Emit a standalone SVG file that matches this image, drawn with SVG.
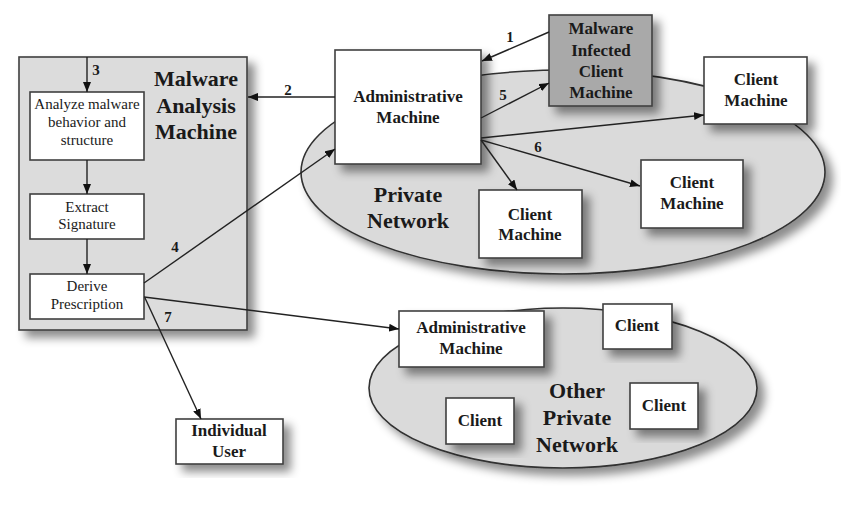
<svg xmlns="http://www.w3.org/2000/svg" width="841" height="505" viewBox="0 0 841 505">
<style>
.box{fill:#ffffff;stroke:#404040;stroke-width:1.6}
.grp{fill:#dcdcdc;stroke:#404040;stroke-width:1.6}
.dark{fill:#a9a9a9;stroke:#404040;stroke-width:1.6}
.net{fill:#dadada;stroke:#303030;stroke-width:1.6}
text{font-family:'Liberation Serif','Times New Roman','DejaVu Serif',serif;fill:#1a1a1a;text-anchor:middle}
.b{font-weight:bold;font-size:17px}
.big{font-weight:bold;font-size:22px}
.r{font-size:15px}
.num{font-weight:bold;font-size:15px}
.c{fill:none;stroke:#222;stroke-width:1.4;marker-end:url(#ah)}
</style>
<defs>
<marker id="ah" viewBox="0 0 10 8" refX="10" refY="4" markerWidth="10" markerHeight="8" markerUnits="userSpaceOnUse" orient="auto">
<path d="M0,0 L10,4 L0,8 Z" fill="#111"/>
</marker>
<filter id="sh" x="-20%" y="-20%" width="150%" height="150%">
<feDropShadow dx="7" dy="7" stdDeviation="5" flood-color="#000" flood-opacity="0.45"/>
</filter>
</defs>
<rect width="841" height="505" fill="#fff"/>

<g id="private-network">
<ellipse class="net" cx="563" cy="172" rx="262" ry="102" filter="url(#sh)"/>
<text class="big" x="408" y="202">Private</text>
<text class="big" x="408" y="228">Network</text>
</g>
<g id="other-private-network">
<ellipse class="net" cx="563" cy="388" rx="194" ry="80" filter="url(#sh)"/>
<text class="big" x="577" y="398">Other</text>
<text class="big" x="577" y="425">Private</text>
<text class="big" x="577" y="452">Network</text>
</g>

<g id="malware-analysis-machine">
<rect class="grp" x="19" y="57" width="228" height="273" filter="url(#sh)"/>
<text class="big" x="196" y="86">Malware</text>
<text class="big" x="196" y="113">Analysis</text>
<text class="big" x="196" y="139">Machine</text>
</g>
<g id="analyze">
<rect class="box" x="30" y="92" width="114" height="68"/>
<text class="r" x="87" y="109">Analyze malware</text>
<text class="r" x="87" y="127">behavior and</text>
<text class="r" x="87" y="145">structure</text>
</g>
<g id="extract">
<rect class="box" x="30" y="194" width="114" height="45"/>
<text class="r" x="87" y="212">Extract</text>
<text class="r" x="87" y="229">Signature</text>
</g>
<g id="derive">
<rect class="box" x="30" y="274" width="114" height="45"/>
<text class="r" x="87" y="291">Derive</text>
<text class="r" x="87" y="309">Prescription</text>
</g>

<g id="admin-machine">
<rect class="box" x="335" y="50" width="146" height="114" filter="url(#sh)"/>
<text class="b" x="408" y="102">Administrative</text>
<text class="b" x="408" y="123">Machine</text>
</g>
<g id="infected-client">
<rect class="dark" x="549" y="15" width="103" height="91" filter="url(#sh)"/>
<text class="b" x="601" y="34">Malware</text>
<text class="b" x="601" y="56">Infected</text>
<text class="b" x="601" y="77">Client</text>
<text class="b" x="601" y="98">Machine</text>
</g>
<g id="client-top-right">
<rect class="box" x="704" y="57" width="103" height="67" filter="url(#sh)"/>
<text class="b" x="756" y="85">Client</text>
<text class="b" x="756" y="106">Machine</text>
</g>
<g id="client-mid-right">
<rect class="box" x="641" y="160" width="102" height="68" filter="url(#sh)"/>
<text class="b" x="692" y="188">Client</text>
<text class="b" x="692" y="209">Machine</text>
</g>
<g id="client-bottom">
<rect class="box" x="479" y="190" width="103" height="68" filter="url(#sh)"/>
<text class="b" x="530" y="220">Client</text>
<text class="b" x="530" y="240">Machine</text>
</g>

<g id="other-admin">
<rect class="box" x="399" y="311" width="145" height="56" filter="url(#sh)"/>
<text class="b" x="471" y="333">Administrative</text>
<text class="b" x="471" y="354">Machine</text>
</g>
<g id="other-client-1">
<rect class="box" x="603" y="304" width="69" height="45" filter="url(#sh)"/>
<text class="b" x="637" y="331">Client</text>
</g>
<g id="other-client-2">
<rect class="box" x="630" y="383" width="68" height="46" filter="url(#sh)"/>
<text class="b" x="664" y="411">Client</text>
</g>
<g id="other-client-3">
<rect class="box" x="446" y="398" width="68" height="46" filter="url(#sh)"/>
<text class="b" x="480" y="426">Client</text>
</g>
<g id="individual-user">
<rect class="box" x="176" y="419" width="107" height="45" filter="url(#sh)"/>
<text class="b" x="229" y="436">Individual</text>
<text class="b" x="229" y="457">User</text>
</g>

<g id="connectors">
<line class="c" x1="549" y1="32" x2="482" y2="61"/>
<line class="c" x1="335" y1="97" x2="248" y2="97"/>
<line class="c" x1="87" y1="57" x2="87" y2="92"/>
<line class="c" x1="87" y1="160" x2="87" y2="194"/>
<line class="c" x1="87" y1="239" x2="87" y2="274"/>
<line class="c" x1="144" y1="283" x2="335" y2="149"/>
<line class="c" x1="481" y1="118" x2="549" y2="83"/>
<line class="c" x1="481" y1="138" x2="704" y2="115"/>
<line class="c" x1="481" y1="140" x2="640" y2="186"/>
<line class="c" x1="481" y1="140" x2="517" y2="190"/>
<line class="c" x1="144" y1="297" x2="399" y2="329"/>
<line class="c" x1="145" y1="298" x2="201" y2="419"/>
<text class="num" x="510" y="42">1</text>
<text class="num" x="288" y="95">2</text>
<text class="num" x="96" y="75">3</text>
<text class="num" x="175" y="252">4</text>
<text class="num" x="503" y="100">5</text>
<text class="num" x="538" y="152">6</text>
<text class="num" x="168" y="322">7</text>
</g>
</svg>
